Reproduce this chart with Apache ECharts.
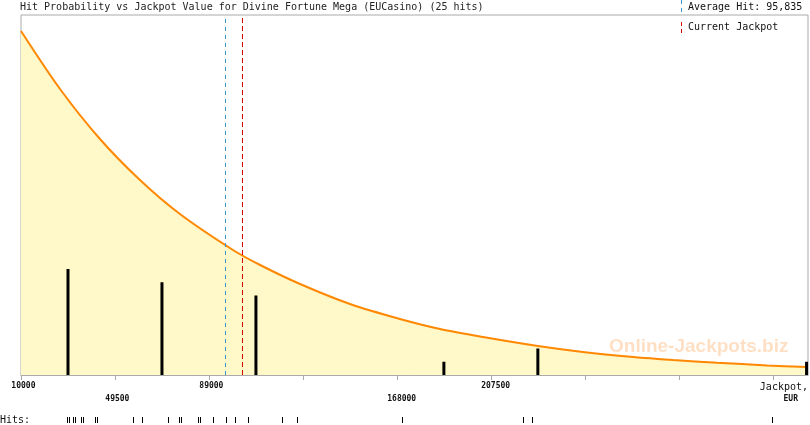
<!DOCTYPE html>
<html>
<head>
<meta charset="utf-8">
<script src="https://cdn.jsdelivr.net/npm/echarts@6/dist/echarts.min.js"></script>
<style>html,body{margin:0;padding:0;background:#fff}#c{width:810px;height:425px}</style>
</head>
<body>
<div id="c"></div>
<script>
// ---- data ----
const titleText = 'Hit Probability vs Jackpot Value for Divine Fortune Mega (EUCasino) (25 hits)';
const hitValues = [29300, 30200, 31900, 32700, 35200, 36100, 41100, 41900, 57100, 60900, 71800, 76400, 77300, 84400, 85200, 90700, 96200, 100000, 105400, 119700, 126000, 170200, 221000, 224800, 325700];
const binCenters = [29750, 69250, 108750, 187750, 227250, 340200];
const binCounts = [8, 7, 6, 1, 2, 1];
const curveX = [10000, 26400, 43200, 60000, 76800, 99100, 110500, 127300, 148300, 169300, 186100, 204200, 227300, 246200, 267300, 284100, 302600, 323600, 340800];
const curveY = [3.44, 2.86, 2.36, 1.95, 1.61, 1.25, 1.10, 0.91, 0.71, 0.56, 0.46, 0.38, 0.29, 0.23, 0.18, 0.15, 0.123, 0.096, 0.079];
const tickValues = [10000, 49500, 89000, 128500, 168000, 207500, 247000, 286500, 326000];
const tickLabels = [10000, 49500, 89000, 168000, 207500];
const lowerRowLabels = [49500, 168000];
const averageHit = 95835;
const currentJackpot = 102900;
const xMin = 10000, xMax = 340800;

const mono = 'DejaVu Sans Mono';
const chart = echarts.init(document.getElementById('c'), null, {renderer: 'canvas'});
chart.setOption({
  animation: false,
  backgroundColor: '#ffffff',
  title: {
    text: titleText, left: 20, top: 2, padding: 0,
    textStyle: {fontFamily: mono, fontSize: 10, fontWeight: 'normal', color: '#222'}
  },
  grid: [
    {left: 21, right: 2, top: 15, bottom: 50, show: true, borderColor: '#aaaaaa', borderWidth: 1, backgroundColor: 'transparent', outerBoundsMode: 'none', containLabel: false},
    {left: 21, right: 2, top: 417, height: 6, outerBoundsMode: 'none', containLabel: false}
  ],
  xAxis: [
    {
      type: 'value', gridIndex: 0, min: xMin, max: xMax,
      axisLine: {show: true, lineStyle: {color: '#aaaaaa', width: 1}},
      axisTick: {show: true, length: 5, customValues: tickValues, lineStyle: {color: '#aaaaaa'}},
      splitLine: {show: false},
      axisLabel: {
        customValues: tickLabels, margin: 4, lineHeight: 13,
        fontFamily: mono, fontSize: 8, fontWeight: 'bold', color: '#111', align: 'center',
        formatter: function (v) {
          const s = String(v);
          const padded = ' '.repeat(Math.max(0, s.length - 4)) + s;
          return lowerRowLabels.indexOf(v) >= 0 ? '\n' + padded : padded;
        }
      },
      name: '{j|Jackpot,}\n{e|EUR}',
      nameLocation: 'end', nameGap: 0,
      nameTextStyle: {
        align: 'right', verticalAlign: 'top', padding: [6, 0, 0, 0],
        rich: {
          j: {fontFamily: mono, fontSize: 10, color: '#111', lineHeight: 12, align: 'right'},
          e: {fontFamily: mono, fontSize: 8, fontWeight: 'bold', color: '#111', lineHeight: 11, align: 'right', padding: [0, 10, 0, 0]}
        }
      }
    },
    {type: 'value', gridIndex: 1, min: xMin, max: xMax, show: false}
  ],
  yAxis: [
    {type: 'value', gridIndex: 0, min: 0, max: 27.17, show: false},
    {type: 'value', gridIndex: 0, min: 0, max: 3.6, show: false},
    {type: 'value', gridIndex: 1, min: 0, max: 1, show: false}
  ],
  series: [
    {
      type: 'line', xAxisIndex: 0, yAxisIndex: 1, z: 2,
      data: curveX.map((x, i) => [x, curveY[i]]),
      smooth: 0.3, showSymbol: false, symbol: 'none',
      lineStyle: {color: '#ff8800', width: 2},
      areaStyle: {color: '#fff8c8', opacity: 1},
      markLine: {
        silent: true, symbol: 'none', label: {show: false},
        data: [
          {xAxis: averageHit, lineStyle: {color: '#3b95c8', width: 1, type: [4, 4]}},
          {xAxis: currentJackpot, lineStyle: {color: '#dd0000', width: 1, type: [5, 3]}}
        ]
      }
    },
    {
      type: 'bar', xAxisIndex: 0, yAxisIndex: 0, z: 3,
      data: binCenters.map((x, i) => [x, binCounts[i]]),
      barWidth: 3, itemStyle: {color: '#000'}
    },
    {
      type: 'custom', xAxisIndex: 1, yAxisIndex: 2,
      data: hitValues.map(v => [v, 0.5]),
      renderItem: function (params, api) {
        const p = api.coord([api.value(0), 0]);
        const q = api.coord([api.value(0), 1]);
        return {type: 'rect', shape: {x: Math.round(p[0]), y: Math.round(q[1]), width: 1, height: Math.round(p[1] - q[1])}, style: {fill: '#000'}};
      }
    }
  ],
  graphic: [
    {type: 'text', left: 0, top: 415, style: {text: 'Hits:', font: '10px "DejaVu Sans Mono"', fill: '#111'}},
    {type: 'text', left: 688, top: 2, style: {text: 'Average Hit: 95,835', font: '10px "DejaVu Sans Mono"', fill: '#111'}},
    {type: 'text', left: 688, top: 22, style: {text: 'Current Jackpot', font: '10px "DejaVu Sans Mono"', fill: '#111'}},
    {type: 'line', shape: {x1: 681.5, y1: 0, x2: 681.5, y2: 12}, style: {stroke: '#3b95c8', lineWidth: 1, lineDash: [4, 4]}},
    {type: 'line', shape: {x1: 681.5, y1: 22, x2: 681.5, y2: 34}, style: {stroke: '#dd0000', lineWidth: 1, lineDash: [4, 3]}},
    {type: 'text', left: 609, top: 337, z: 10, style: {text: 'Online-Jackpots.biz', font: 'bold 19px "Liberation Sans"', fill: 'rgba(255,150,60,0.3)'}}
  ]
});
</script>
</body>
</html>
